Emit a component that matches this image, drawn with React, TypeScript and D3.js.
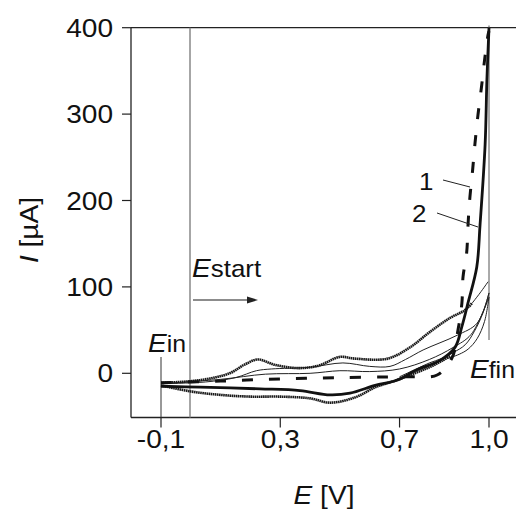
import React from "react";
import * as d3 from "d3";

type Pt = [number, number];

// Curve 1 (dashed)
const curve1: Pt[] = [
  [-0.1, -11], [0.1, -9], [0.3, -6.5], [0.5, -5], [0.7, -4], [0.745, -4], [0.826, -2],
  [0.876, 18], [0.896, 50], [0.909, 81], [0.913, 112], [0.925, 139], [0.93, 174],
  [0.936, 204], [0.945, 235], [0.953, 266], [0.963, 299], [0.975, 332], [0.986, 365], [0.997, 392], [1.0, 396],
];
// Curve 2 (thick solid)
const curve2: Pt[] = [
  [-0.1, -15], [0.031, -16], [0.232, -18], [0.366, -20], [0.467, -25], [0.534, -23], [0.618, -14],
  [0.691, -8], [0.758, 4], [0.836, 15], [0.886, 30], [0.909, 54], [0.93, 82], [0.959, 123],
  [0.97, 172], [0.987, 265], [0.993, 340], [1.0, 400],
];
// Noisy upper branch
const noisyUpper: Pt[] = [
  [-0.1, -11], [0.03, -8], [0.13, 0], [0.18, 10], [0.225, 16], [0.28, 10], [0.36, 6], [0.43, 9],
  [0.5, 19], [0.55, 17], [0.66, 17], [0.735, 30], [0.802, 48], [0.869, 64], [0.919, 73], [0.943, 81],
];
const upperTail: Pt[] = [[0.943, 81], [0.97, 93], [0.997, 106]];
// Noisy lower branch
const noisyLower: Pt[] = [
  [-0.1, -14], [0.0, -21], [0.1, -25], [0.2, -27], [0.3, -27], [0.4, -29], [0.467, -34],
  [0.55, -28], [0.62, -16], [0.69, -8], [0.75, 0], [0.8, 7], [0.84, 14], [0.87, 20],
];
// Thin traces
const thinA: Pt[] = [
  [-0.1, -12], [0.05, -10], [0.15, -5], [0.22, 3], [0.27, 5], [0.4, 7], [0.51, 12], [0.6, 8],
  [0.668, 8], [0.72, 16], [0.779, 27], [0.893, 44], [0.96, 58], [1.0, 93],
];
const thinB: Pt[] = [
  [-0.1, -12], [0.1, -7], [0.25, -1], [0.4, 0], [0.5, 3], [0.6, 2], [0.7, 5], [0.8, 16],
  [0.88, 30], [0.94, 45], [1.0, 88],
];
const thinR1: Pt[] = [
  [1.0, 93], [0.98, 70], [0.95, 48], [0.92, 33], [0.88, 24], [0.84, 17], [0.8, 12], [0.75, 4], [0.7, -4],
];
const thinR2: Pt[] = [
  [1.0, 88], [0.985, 60], [0.96, 40], [0.93, 28], [0.9, 22], [0.86, 17],
];

const xTicks = [-0.1, 0.3, 0.7, 1.0];
const xTickLabels = ["-0,1", "0,3", "0,7", "1,0"];
const yTicks = [0, 100, 200, 300, 400];

const W = 516;
const H = 513;
const FS = 26;
const SUB = 23;
const SX = 1.08;
const FONT = "'Liberation Sans', Arial, sans-serif";

export default function App() {
  const x = d3.scaleLinear().domain([-0.1, 1.0]).range([161, 489]);
  const y = d3.scaleLinear().domain([0, 400]).range([373.3, 27.7]);
  const left = 131;
  const top = y(400);
  const bottom = 417.5;
  const line = d3
    .line<Pt>()
    .x((d) => x(d[0]))
    .y((d) => y(d[1]))
    .curve(d3.curveCatmullRom.alpha(0.5));

  const txt = (tx: number, ty: number, anchor: string, children: React.ReactNode, fs = FS) => (
    <text
      transform={`translate(${tx},${ty}) scale(${SX},1)`}
      textAnchor={anchor}
      fontSize={fs}
      fontFamily={FONT}
      fill="#111"
    >
      {children}
    </text>
  );

  return (
    <svg width={W} height={H} style={{ position: "absolute", left: 0, top: 0, background: "#fff" }}>
      {/* frame */}
      <line x1={left} x2={left} y1={top} y2={bottom} stroke="#222" strokeWidth={1.3} />
      <line x1={left} x2={W} y1={top} y2={top} stroke="#222" strokeWidth={1.3} />
      <line x1={left} x2={W} y1={bottom} y2={bottom} stroke="#222" strokeWidth={1.3} />
      {yTicks.map((t) => (
        <g key={"yt" + t}>
          <line x1={122} x2={left} y1={y(t)} y2={y(t)} stroke="#222" strokeWidth={1.2} />
          {txt(113, y(t) + 9, "end", String(t))}
        </g>
      ))}
      {xTicks.map((t, i) => (
        <g key={"xt" + t}>
          <line x1={x(t)} x2={x(t)} y1={bottom} y2={bottom + 10} stroke="#222" strokeWidth={1.2} />
          {txt(x(t), 448, "middle", xTickLabels[i])}
        </g>
      ))}
      {/* marker lines */}
      <line x1={x(-0.1)} x2={x(-0.1)} y1={357} y2={bottom} stroke="#333" strokeWidth={1} />
      <line x1={190} x2={190} y1={top} y2={bottom} stroke="#888" strokeWidth={1.5} />
      <line x1={x(1.0)} x2={x(1.0)} y1={25.5} y2={340} stroke="#555" strokeWidth={1} />

      {/* curves */}
      <g fill="none" strokeLinejoin="round">
        <path d={line(thinA) || ""} stroke="#222" strokeWidth={1} />
        <path d={line(thinB) || ""} stroke="#222" strokeWidth={1} />
        <path d={line(thinR1) || ""} stroke="#222" strokeWidth={1} />
        <path d={line(thinR2) || ""} stroke="#222" strokeWidth={1} />
        <path d={line(upperTail) || ""} stroke="#222" strokeWidth={1} />
        <path d={line(noisyUpper) || ""} stroke="#1a1a1a" strokeWidth={2.6} strokeDasharray="1.6 0.5" />
        <path d={line(noisyLower) || ""} stroke="#1a1a1a" strokeWidth={2.6} strokeDasharray="1.6 0.5" />
        <path d={line(curve1) || ""} stroke="#111" strokeWidth={3} strokeDasharray="11 16" />
        <path d={line(curve2) || ""} stroke="#111" strokeWidth={2.8} />
      </g>

      {/* arrow */}
      <line x1={193} x2={249} y1={300} y2={300} stroke="#666" strokeWidth={1.3} />
      <polygon points="247,296.5 258,300 247,303.5" fill="#222" />

      {/* annotations */}
      {txt(148, 352, "start", <>
        <tspan fontStyle="italic">E</tspan>
        <tspan fontSize={SUB}>in</tspan>
      </>)}
      {txt(192, 277, "start", <>
        <tspan fontStyle="italic">E</tspan>
        <tspan fontSize={24}>start</tspan>
      </>)}
      {txt(470, 378, "start", <>
        <tspan fontStyle="italic">E</tspan>
        <tspan fontSize={SUB}>fin</tspan>
      </>)}
      {txt(419, 190, "start", "1", 24)}
      {txt(412, 222, "start", "2", 24)}
      <line x1={443} x2={470} y1={180} y2={187} stroke="#222" strokeWidth={1} />
      <line x1={437} x2={478} y1={213} y2={227} stroke="#222" strokeWidth={1} />

      {/* axis titles */}
      {txt(324, 504, "middle", <>
        <tspan fontStyle="italic">E</tspan>
        <tspan> [V]</tspan>
      </>)}
      <text
        transform="translate(38,230) rotate(-90) scale(1.08,1)"
        textAnchor="middle"
        fontSize={FS}
        fontFamily={FONT}
        fill="#111"
      >
        <tspan fontStyle="italic">I</tspan>
        <tspan> [µA]</tspan>
      </text>
    </svg>
  );
}
